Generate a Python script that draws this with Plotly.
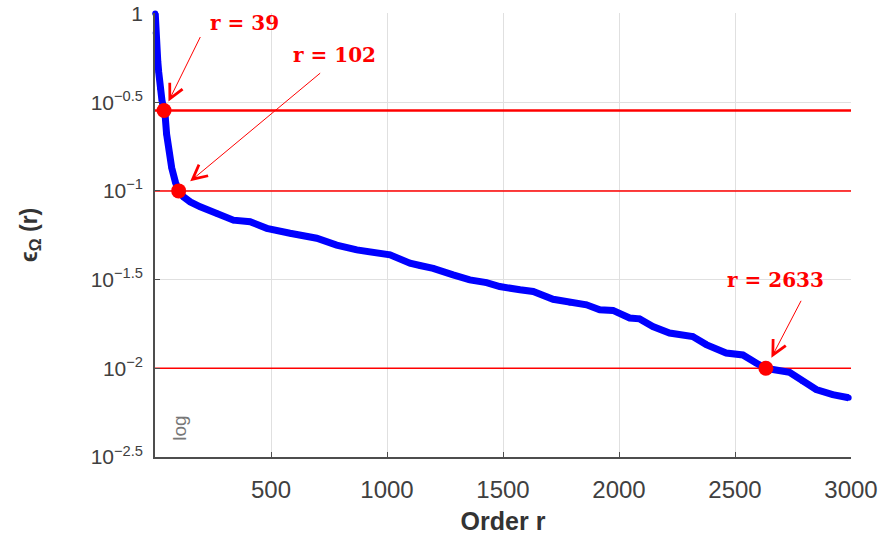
import math
import plotly.graph_objects as go

# curve (order r, error)
order_r = [1, 3, 8, 12, 16, 22, 30, 39, 44, 50, 60, 72, 88, 102, 123, 152, 195,
           267, 338, 410, 482, 582, 697, 783, 870, 1013, 1099, 1142, 1199, 1285,
           1357, 1429, 1486, 1573, 1630, 1716, 1788, 1860, 1917, 1974, 2046, 2089,
           2146, 2218, 2318, 2376, 2462, 2534, 2591, 2633, 2735, 2792, 2850, 2921,
           2990]
eps = [1.0, 0.776, 0.676, 0.537, 0.468, 0.380, 0.324, 0.284, 0.263, 0.209,
       0.170, 0.135, 0.112, 0.100, 0.0925, 0.0867, 0.0813, 0.0746, 0.0684,
       0.0670, 0.0615, 0.0577, 0.0541, 0.0495, 0.0465, 0.0436, 0.0391, 0.0380,
       0.0366, 0.0336, 0.0315, 0.0304, 0.0289, 0.0277, 0.0271, 0.0245, 0.0235,
       0.0228, 0.0214, 0.0212, 0.0192, 0.0190, 0.0172, 0.0158, 0.0151, 0.0136,
       0.0122, 0.0119, 0.0107, 0.0100, 0.0095, 0.00845, 0.00759, 0.00711,
       0.00682]

# thresholds and the orders where the curve crosses them
thresholds = [0.284, 0.1, 0.01]
marked_r = [39, 102, 2633]
marked_labels = ["r = 39", "r = 102", "r = 2633"]

x_range = [0, 3000]
x_ticks = [500, 1000, 1500, 2000, 2500, 3000]
y_ticks = [1, 10 ** -0.5, 10 ** -1, 10 ** -1.5, 10 ** -2, 10 ** -2.5]
y_ticktext = ["1", "10<sup>\u22120.5</sup>", "10<sup>\u22121</sup>",
              "10<sup>\u22121.5</sup>", "10<sup>\u22122</sup>",
              "10<sup>\u22122.5</sup>"]

RED = "#ff0000"
BLUE = "#0000ff"
AXIS = "#4d4d4d"

fig = go.Figure()

for i, t in enumerate(thresholds):
    fig.add_trace(go.Scatter(
        x=x_range, y=[t, t], mode="lines",
        line={"color": RED, "width": 2.5 if i == 0 else 1.5},
        hoverinfo="skip",
    ))

fig.add_trace(go.Scatter(
    x=order_r, y=eps, mode="lines+markers",
    line={"color": BLUE, "width": 7},
    marker={"color": BLUE, "size": 6},
    cliponaxis=False,
))

fig.add_trace(go.Scatter(
    x=marked_r, y=thresholds, mode="markers",
    marker={"color": RED, "size": 15},
    cliponaxis=False,
))

# arrows: (ax, ay, standoff) in px, label offset (dx, dy) in px
arrow_geo = [(37, -75, 10), (143, -119, 15), (36, -69, 12)]
label_off = [(80, 88), (156, 136), (10, 88)]

for r, t, lab, (ax, ay, so), (dx, dy) in zip(marked_r, thresholds, marked_labels,
                                             arrow_geo, label_off):
    fig.add_annotation(
        x=r, y=math.log10(t), text="", showarrow=True,
        ax=ax, ay=ay, standoff=so,
        arrowhead=5, arrowsize=2.8, arrowwidth=1, arrowcolor=RED,
    )
    fig.add_annotation(
        x=r, y=math.log10(t), text=f"<b>{lab}</b>", showarrow=False,
        xshift=dx, yshift=dy,
        font={"family": "DejaVu Serif", "size": 20, "color": RED},
    )

fig.add_annotation(
    xref="paper", yref="paper", x=0.034, y=0.065, text="log",
    xanchor="center", yanchor="middle",
    showarrow=False, textangle=-90,
    font={"family": "Liberation Sans, Arial", "size": 19, "color": "#777777"},
)

fig.update_layout(
    width=880, height=546,
    margin={"l": 155, "r": 29, "t": 13, "b": 89, "autoexpand": False},
    plot_bgcolor="white", paper_bgcolor="white",
    showlegend=False,
    font={"family": "Liberation Sans, Arial", "color": "#333333"},
)
fig.update_xaxes(
    range=x_range, tickvals=x_ticks, automargin=False,
    showgrid=True, gridcolor="#e0e0e0", gridwidth=1,
    showline=True, linecolor=AXIS, linewidth=1.5,
    ticks="inside", ticklen=5, tickcolor=AXIS,
    tickfont={"size": 24, "color": "#404040"},
    ticklabelstandoff=10, ticklabeloverflow="allow",
    zeroline=False,
    title={"text": "<b>Order r</b>", "font": {"size": 25, "color": "#333333"},
           "standoff": 11},
)
fig.update_yaxes(
    type="log", range=[-2.5, 0.003], automargin=False,
    tickvals=y_ticks, ticktext=y_ticktext,
    showgrid=True, gridcolor="#e0e0e0", gridwidth=1,
    showline=True, linecolor=AXIS, linewidth=1.5,
    ticks="inside", ticklen=5, tickcolor=AXIS,
    tickfont={"size": 21, "color": "#404040"},
    ticklabelstandoff=6, ticklabeloverflow="allow",
    title={"text": "<b>\u03f5<sub>\u03a9</sub> (r)</b>",
           "font": {"size": 23, "color": "#333333"}, "standoff": 47},
)

# drop the default 8px page margin so the figure fills the window exactly
fig.write_html("out.html", config={"displayModeBar": False},
               post_script="document.body.style.margin='0px';")
